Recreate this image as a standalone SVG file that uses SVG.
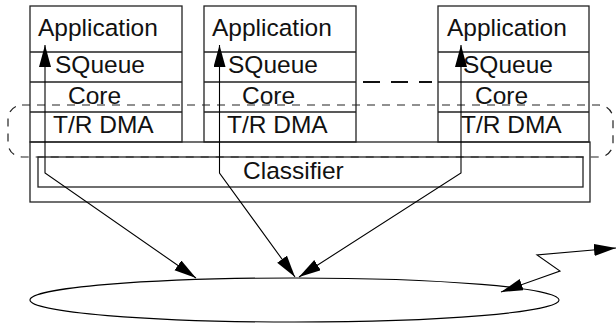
<svg xmlns="http://www.w3.org/2000/svg" width="616" height="323" viewBox="0 0 616 323">
<style>
.box{fill:none;stroke:#222;stroke-width:1.3}
.t{font-family:"Liberation Sans",Arial,sans-serif;font-size:24.5px;fill:#111}
.con{fill:none;stroke:#000;stroke-width:1.1}
.dash{fill:none;stroke:#222;stroke-width:1.2;stroke-dasharray:8 7}
</style>
<defs>
<marker id="ah" markerUnits="userSpaceOnUse" markerWidth="23" markerHeight="13" refX="22" refY="6" orient="auto-start-reverse" viewBox="0 0 23 13">
<path d="M0,0 L22,6 L0,12 z" fill="#000"/>
</marker>
</defs>
<rect x="0" y="0" width="616" height="323" fill="#fff"/>

<g id="platform">
<rect class="box" x="30" y="142" width="560" height="60"/>
</g>
<g id="classifier">
<rect class="box" x="38" y="157" width="545" height="30"/>
<text class="t" x="243" y="179">Classifier</text>
</g>

<g id="node1">
<rect class="box" x="30" y="6" width="152" height="136"/>
<line class="box" x1="30" y1="52" x2="182" y2="52"/>
<line class="box" x1="30" y1="82" x2="182" y2="82"/>
<line class="box" x1="30" y1="112" x2="182" y2="112"/>
<text class="t" x="38" y="36">Application</text>
<text class="t" x="55" y="73">SQueue</text>
<text class="t" x="68" y="104">Core</text>
<text class="t" x="53" y="133">T/R DMA</text>
</g>

<g id="node2">
<rect class="box" x="204" y="6" width="152" height="136"/>
<line class="box" x1="204" y1="52" x2="356" y2="52"/>
<line class="box" x1="204" y1="82" x2="356" y2="82"/>
<line class="box" x1="204" y1="112" x2="356" y2="112"/>
<text class="t" x="212" y="36">Application</text>
<text class="t" x="228" y="73">SQueue</text>
<text class="t" x="242" y="104">Core</text>
<text class="t" x="227" y="133">T/R DMA</text>
</g>

<g id="node3">
<rect class="box" x="438" y="6" width="151" height="136"/>
<line class="box" x1="438" y1="52" x2="589" y2="52"/>
<line class="box" x1="438" y1="82" x2="589" y2="82"/>
<line class="box" x1="438" y1="112" x2="589" y2="112"/>
<text class="t" x="447" y="36">Application</text>
<text class="t" x="463" y="73">SQueue</text>
<text class="t" x="475" y="104">Core</text>
<text class="t" x="461" y="133">T/R DMA</text>
</g>

<g id="ellipsis">
<line x1="363" y1="82" x2="432" y2="82" stroke="#111" stroke-width="2.2" stroke-dasharray="17 11"/>
</g>

<g id="group">
<rect class="dash" x="8" y="105" width="605" height="52" rx="14" ry="14"/>
</g>

<g id="network">
<ellipse cx="294.5" cy="300" rx="264.5" ry="22" fill="none" stroke="#000" stroke-width="1.2"/>
</g>

<g id="connectors">
<polyline class="con" points="45,45 45,173 196,278" marker-start="url(#ah)" marker-end="url(#ah)"/>
<polyline class="con" points="219.5,45 219.5,173 295,277" marker-start="url(#ah)" marker-end="url(#ah)"/>
<polyline class="con" points="461,45 461,173 299,277" marker-start="url(#ah)" marker-end="url(#ah)"/>
<polyline class="con" points="501,292 560,271 537,255 616,248" marker-start="url(#ah)" marker-end="url(#ah)"/>
</g>
</svg>
